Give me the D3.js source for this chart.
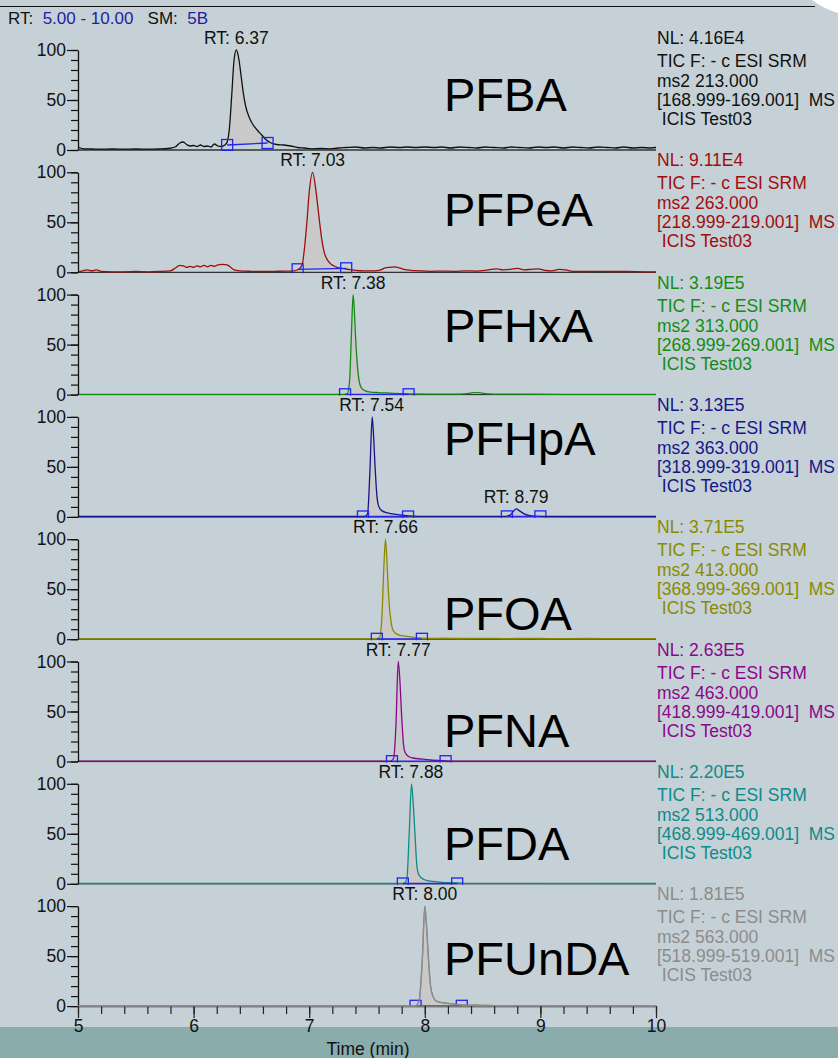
<!DOCTYPE html>
<html>
<head>
<meta charset="utf-8">
<script src="https://cdn.jsdelivr.net/npm/d3@7"></script>
<style>
  body { margin: 0; background: #c5d1d6; }
  svg { display: block; font-family: "Liberation Sans", Arial, sans-serif; }
</style>
</head>
<body>
<svg id="chart" width="838" height="1058"></svg>
<script>
// compounds, top panel to bottom panel
var compounds = ["PFBA", "PFPeA", "PFHxA", "PFHpA", "PFOA", "PFNA", "PFDA", "PFUnDA"];
var normLevels = ["4.16E4", "9.11E4", "3.19E5", "3.13E5", "3.71E5", "2.63E5", "2.20E5", "1.81E5"];
var precursors = ["213.000", "263.000", "313.000", "363.000", "413.000", "463.000", "513.000", "563.000"];
var fragments = ["168.999-169.001", "218.999-219.001", "268.999-269.001", "318.999-319.001",
                 "368.999-369.001", "418.999-419.001", "468.999-469.001", "518.999-519.001"];
var retentionTimes = [[6.37], [7.03], [7.38], [7.54, 8.79], [7.66], [7.77], [7.88], [8.00]];

// integrated peaks: [start time, start %, end time, end %]
var peakBounds = [
  [[6.29, 5, 6.64, 7]],
  [[6.90, 3, 7.32, 4]],
  [[7.31, 0.3, 7.86, 0.3]],
  [[7.465, 0.4, 7.855, 0.4], [8.71, 0.5, 9.0, 0.5]],
  [[7.585, 0.4, 7.975, 0.4]],
  [[7.716, 0.3, 8.18, 0.3]],
  [[7.81, 0.3, 8.28, 0.3]],
  [[7.92, 0.3, 8.32, 0.3]]
];

// x axis
var timeDomain = [5, 10];
var timeMajor = [5, 6, 7, 8, 9, 10];
var yMajor = [0, 50, 100];

// traces: [time (min), relative abundance %]
var tracePFBA = [
  [5.00,3],[5.02,2],[5.05,1.2],[5.12,1],[5.2,0.8],[5.3,1],[5.4,0.8],[5.5,1],[5.6,0.8],[5.7,1],[5.78,1.5],
  [5.84,3],[5.88,7],[5.91,8],[5.94,5.5],[5.97,4],[6.0,4.5],[6.03,3.5],[6.06,5],[6.09,3.5],[6.12,4],[6.15,3],
  [6.18,6],[6.21,4],[6.24,3.5],[6.27,5],[6.29,8],[6.31,22],[6.33,55],[6.35,90],[6.37,100],[6.39,92],[6.41,75],
  [6.43,57],[6.45,44],[6.48,33],[6.51,26],[6.55,20],[6.59,15],[6.63,10],[6.67,7],[6.72,5.5],[6.78,5],[6.84,4],
  [6.9,2.5],[6.96,2],[7.02,1.2],[7.1,1.5],[7.18,1.2],[7.25,2],[7.32,2.5],[7.4,3],[7.48,2],[7.55,2.5],[7.62,2],
  [7.7,3],[7.78,2.5],[7.85,3],[7.92,2.5],[8.0,3],[8.08,2.5],[8.15,3],[8.22,2],[8.3,3],[8.38,2.5],[8.45,2],
  [8.52,3],[8.6,2.5],[8.68,2],[8.75,3],[8.82,2.5],[8.9,2],[8.98,3],[9.05,2.5],[9.12,3],[9.2,2],[9.28,3],
  [9.35,2.5],[9.42,2],[9.5,3],[9.58,2.5],[9.65,2],[9.72,3],[9.8,2],[9.88,2.5],[9.95,2],[10,2.5]
];
var tracePFPeA = [
  [5.0,0.5],[5.04,1.5],[5.08,2.5],[5.12,1.5],[5.16,2.5],[5.2,1],[5.3,0.5],[5.4,0.5],[5.5,0.8],[5.6,0.5],
  [5.7,0.8],[5.8,1.5],[5.84,4],[5.88,7],[5.91,6.5],[5.94,5],[5.97,6],[6.0,5],[6.03,6.5],[6.06,5.5],[6.09,7],
  [6.12,5.5],[6.15,7],[6.18,6],[6.21,7.5],[6.25,8],[6.29,7.5],[6.32,5],[6.35,2.5],[6.4,1.5],[6.5,1],[6.6,0.8],
  [6.7,1],[6.8,1.2],[6.87,1.5],[6.91,3],[6.94,8],[6.96,25],[6.98,50],[7.0,80],[7.03,100],[7.06,80],[7.09,50],
  [7.11,32],[7.13,20],[7.16,12],[7.19,8],[7.23,5.5],[7.28,4],[7.34,3],[7.4,2],[7.48,1.5],[7.56,1.5],[7.62,2.5],
  [7.66,4.5],[7.7,5],[7.74,5.5],[7.78,4.5],[7.82,3],[7.88,2],[7.95,1.5],[8.05,1],[8.15,1.2],[8.25,1],[8.35,1.5],
  [8.45,1.2],[8.55,2.5],[8.62,3.5],[8.68,2.5],[8.74,3],[8.8,4],[8.86,2.5],[8.92,3],[8.98,3.5],[9.04,2],[9.1,1.5],
  [9.16,3],[9.22,2.5],[9.28,1],[9.4,0.8],[9.5,1],[9.6,0.8],[9.75,0.8],[9.9,0.5],[10,0.5]
];
var tracePFHxA = [
  [5.0,0.3],[6.0,0.3],[7.0,0.3],[7.3,0.3],[7.33,1],[7.35,15],[7.365,60],[7.38,100],[7.39,85],[7.40,60],
  [7.415,32],[7.43,15],[7.45,7],[7.48,4],[7.53,2.5],[7.6,2],[7.7,1.5],[7.8,1],[7.9,0.6],[8.1,0.4],[8.3,0.5],
  [8.37,1],[8.42,2],[8.47,2],[8.52,1],[8.6,0.5],[8.8,0.4],[9.2,0.3],[10,0.3]
];
var tracePFHpA = [
  [5.0,0.4],[6.0,0.4],[7.0,0.4],[7.48,0.4],[7.505,3],[7.525,45],[7.545,100],[7.555,85],[7.57,50],[7.585,22],
  [7.6,11],[7.63,6],[7.68,4],[7.75,2.5],[7.82,1.5],[7.9,0.8],[8.0,0.5],[8.6,0.5],[8.7,0.6],[8.74,2],[8.77,6],
  [8.79,8],[8.82,6],[8.86,3],[8.9,1.5],[8.98,0.6],[9.2,0.4],[10,0.4]
];
var tracePFOA = [
  [5.0,0.4],[6.0,0.4],[7.0,0.4],[7.58,0.4],[7.61,2],[7.63,25],[7.645,70],[7.66,100],[7.675,72],[7.69,38],
  [7.71,16],[7.73,8],[7.77,4.5],[7.83,3],[7.9,1.8],[7.97,1],[8.05,0.8],[8.15,1],[8.3,0.7],[8.5,0.9],[8.7,0.6],
  [8.9,0.8],[9.1,0.6],[9.4,0.7],[9.7,0.5],[10,0.5]
];
var tracePFNA = [
  [5.0,0.3],[6.0,0.3],[7.0,0.3],[7.7,0.3],[7.73,3],[7.75,35],[7.77,100],[7.785,80],[7.8,45],[7.815,18],
  [7.83,9],[7.86,5],[7.9,3.5],[7.97,2.5],[8.05,1.5],[8.15,0.8],[8.3,0.3],[10,0.3]
];
var tracePFDA = [
  [5.0,0.3],[6.0,0.3],[7.0,0.3],[7.82,0.3],[7.845,5],[7.865,50],[7.885,100],[7.9,80],[7.915,50],[7.93,20],
  [7.945,10],[7.97,6],[8.0,4],[8.07,2.5],[8.15,1.5],[8.25,1],[8.35,0.5],[8.5,0.4],[10,0.3]
];
var tracePFUnDA = [
  [5.0,0.3],[6.0,0.3],[7.0,0.3],[7.92,0.3],[7.95,5],[7.98,50],[8.0,100],[8.015,80],[8.03,50],[8.05,20],
  [8.07,10],[8.1,5],[8.15,3.5],[8.22,2.5],[8.3,1.5],[8.4,1],[8.5,0.8],[8.6,0.5],[10,0.3]
];
var traces = [tracePFBA, tracePFPeA, tracePFHxA, tracePFHpA, tracePFOA, tracePFNA, tracePFDA, tracePFUnDA];

// ---- layout / style ----
var colors = ["#111111", "#a00d0d", "#148c14", "#16168a", "#8a8a00", "#8a078a", "#0e8a8a", "#8c8c8c"];
var nameBaseline = [61, 54, 47, 38, 91, 85, 76, 69]; // big compound name, below panel top
var left = 78, right = 656, firstTop = 50, step = 122.3, ph = 100;
var blue = "#2323f0";
var sp = "\u00a0";

var svg = d3.select("#chart");
var x = d3.scaleLinear().domain(timeDomain).range([left, right]);
var y = d3.scaleLinear().domain([0, 100]).range([ph, 0]);

// bottom band
svg.append("rect").attr("x", 0).attr("y", 1027).attr("width", 838).attr("height", 31).attr("fill", "#8aacac");

// top rule + window corner
svg.append("line").attr("x1", 0).attr("x2", 815).attr("y1", 6.5).attr("y2", 6.5)
  .attr("stroke", "#111").attr("stroke-width", 1);
svg.append("path").attr("d", "M812,0 Q824,9 838,13 L838,0 Z").attr("fill", "#fff");

// header
var head = svg.append("text").attr("x", 8).attr("y", 24).style("font-size", "17px");
head.append("tspan").attr("fill", "#111").text("RT:" + sp + sp);
head.append("tspan").attr("fill", "#1e1ea0").text("5.00 - 10.00");
head.append("tspan").attr("fill", "#111").text(sp + sp + sp + "SM:" + sp + sp);
head.append("tspan").attr("fill", "#1e1ea0").text("5B");

var line = d3.line().x(function(d) { return x(d[0]); }).y(function(d) { return y(d[1]); })
  .curve(d3.curveMonotoneX);

function valueAt(tr, t) {
  for (var k = 1; k < tr.length; k++) {
    if (tr[k][0] >= t) {
      var a = tr[k - 1], b = tr[k];
      return a[1] + (b[1] - a[1]) * (t - a[0]) / (b[0] - a[0]);
    }
  }
  return tr[tr.length - 1][1];
}

compounds.forEach(function(name, i) {
  var top = firstTop + i * step;
  var g = svg.append("g").attr("transform", "translate(0," + top + ")");
  var tr = traces[i];

  svg.append("clipPath").attr("id", "clip" + i).append("rect")
    .attr("x", left).attr("y", -20).attr("width", right - left).attr("height", ph + 21);
  var plot = g.append("g").attr("clip-path", "url(#clip" + i + ")");

  // panel baseline
  if (i < compounds.length - 1) {
    plot.append("line").attr("x1", left).attr("x2", right).attr("y1", ph).attr("y2", ph)
      .attr("stroke", "#333").attr("stroke-width", 1.3);
  }

  // integrated areas
  peakBounds[i].forEach(function(pb) {
    var t0 = pb[0], t1 = pb[2];
    var base = function(t) { return pb[1] + (pb[3] - pb[1]) * (t - t0) / (t1 - t0); };
    var pts = [[t0, valueAt(tr, t0)]]
      .concat(tr.filter(function(d) { return d[0] > t0 && d[0] < t1; }))
      .concat([[t1, valueAt(tr, t1)]]);
    var area = d3.area().x(function(d) { return x(d[0]); })
      .y0(function(d) { return y(base(d[0])); })
      .y1(function(d) { return y(d[1]); })
      .curve(d3.curveMonotoneX);
    plot.append("path").attr("d", area(pts)).attr("fill", "#c9c9c9");
  });

  plot.append("path").datum(tr).attr("d", line)
    .attr("fill", "none").attr("stroke", colors[i]).attr("stroke-width", 1.3);

  // baseline markers
  peakBounds[i].forEach(function(pb) {
    plot.append("line").attr("x1", x(pb[0])).attr("y1", y(pb[1])).attr("x2", x(pb[2])).attr("y2", y(pb[3]))
      .attr("stroke", blue).attr("stroke-width", 1.3);
    [[pb[0], pb[1]], [pb[2], pb[3]]].forEach(function(p) {
      plot.append("rect").attr("x", x(p[0]) - 5.5).attr("y", y(p[1]) - 5.5).attr("width", 11).attr("height", 11)
        .attr("fill", "none").attr("stroke", blue).attr("stroke-width", 1.3);
    });
  });

  // y axis
  g.append("g").attr("transform", "translate(" + left + ",0)")
    .call(d3.axisLeft(y).tickValues(d3.range(0, 101, 10)).tickSize(7).tickSizeOuter(0).tickFormat(""))
    .call(function(a) { a.selectAll("line").attr("stroke", "#111").attr("stroke-width", 1.2); a.select(".domain").attr("stroke", "#111").attr("stroke-width", 1.3); });
  g.append("g").attr("transform", "translate(" + left + ",0)")
    .call(d3.axisLeft(y).tickValues(yMajor).tickSize(11).tickSizeOuter(0).tickPadding(1).tickFormat(d3.format("d")))
    .call(function(a) {
      a.select(".domain").remove();
      a.selectAll("line").attr("stroke", "#111").attr("stroke-width", 1.2);
      a.selectAll("text").attr("fill", "#111").style("font-size", "17.5px").style("font-family", "Liberation Sans, Arial, sans-serif");
    });

  // RT labels
  retentionTimes[i].forEach(function(rt) {
    var near = tr.filter(function(d) { return Math.abs(d[0] - rt) < 0.06; });
    var apex = d3.max(near, function(d) { return d[1]; });
    g.append("text").attr("x", x(rt)).attr("y", y(apex) - 6).attr("text-anchor", "middle")
      .attr("fill", "#111").style("font-size", "17.5px").text("RT:" + sp + rt.toFixed(2));
  });

  // compound name
  g.append("text").attr("x", 444).attr("y", nameBaseline[i]).attr("fill", "#000")
    .style("font-size", "47px").text(name);

  // legend
  var lg = g.append("g").attr("fill", colors[i]).style("font-size", "17.5px");
  var lines = ["NL: " + normLevels[i], "TIC F: - c ESI SRM", "ms2 " + precursors[i],
               "[" + fragments[i] + "]" + sp + sp + "MS", sp + "ICIS Test03"];
  var offs = [-6, 17, 37, 56, 75];
  lines.forEach(function(s, k) {
    lg.append("text").attr("x", 657).attr("y", offs[k]).text(s);
  });
});

// bottom time axis
var lastTop = firstTop + (compounds.length - 1) * step;
var xg = svg.append("g").attr("transform", "translate(0," + (lastTop + ph) + ")");
xg.call(d3.axisBottom(x).tickValues(d3.range(5, 10.001, 0.2)).tickSize(8).tickSizeOuter(0).tickFormat(""))
  .call(function(a) { a.selectAll("line").attr("stroke", "#222").attr("stroke-width", 1.2); a.select(".domain").attr("stroke", "#7a7a7a").attr("stroke-width", 2); });
svg.append("g").attr("transform", "translate(0," + (lastTop + ph) + ")")
  .call(d3.axisBottom(x).tickValues(timeMajor).tickSize(12).tickSizeOuter(0).tickPadding(1).tickFormat(d3.format("d")))
  .call(function(a) {
    a.select(".domain").remove();
    a.selectAll("line").attr("stroke", "#222").attr("stroke-width", 1.2);
    a.selectAll("text").attr("fill", "#111").style("font-size", "17.5px").style("font-family", "Liberation Sans, Arial, sans-serif");
  });
// redraw the final trace over the axis
svg.append("path").datum(traces[traces.length - 1])
  .attr("transform", "translate(0," + lastTop + ")")
  .attr("d", line)
  .attr("fill", "none").attr("stroke", colors[colors.length - 1]).attr("stroke-width", 1.3);

svg.append("text").attr("x", 368).attr("y", 1055).attr("text-anchor", "middle")
  .attr("fill", "#111").style("font-size", "17.5px").text("Time (min)");
</script>
</body>
</html>
